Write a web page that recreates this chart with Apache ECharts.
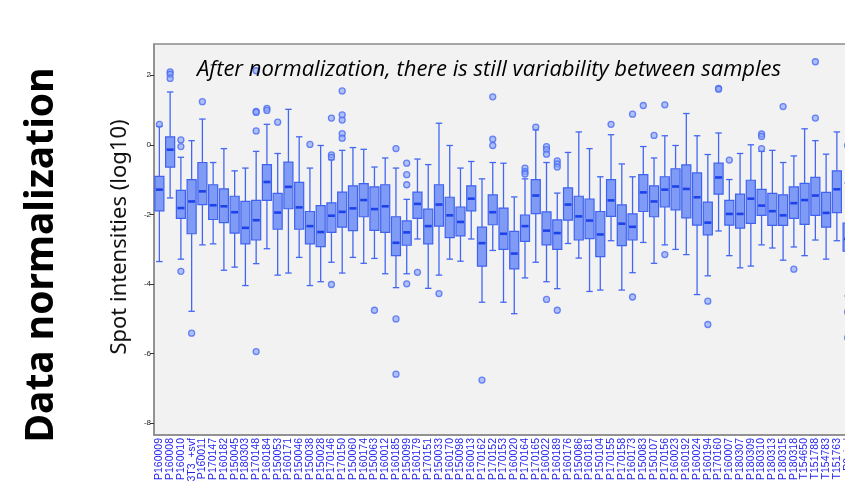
<!DOCTYPE html>
<html>
<head>
<meta charset="utf-8">
<script src="https://cdn.jsdelivr.net/npm/echarts@6/dist/echarts.min.js"></script>
<style>
  body { margin: 0; background: #fff; }
  #chart { width: 858px; height: 491px; }
</style>
</head>
<body>
<div id="chart"></div>
<script>
// sample names along the x axis
const categories = [
  "P160009", "P160008", "P160010", "3T3_+svf", "P160011", "P170147", "P160182", "P150045",
  "P180303", "P170148", "P160184", "P150053", "P160171", "P150046", "P150038", "P150028",
  "P170146", "P170150", "P150060", "P160174", "P150063", "P160012", "P160185", "P150099",
  "P160179", "P170151", "P150033", "P160170", "P150098", "P160013", "P170162", "P170152",
  "P170153", "P160020", "P170164", "P170165", "P160022", "P160189", "P160176", "P150086",
  "P160181", "P150104", "P170155", "P170158", "P160173", "P150083", "P150107", "P170156",
  "P160023", "P160192", "P160024", "P160194", "P170160", "P160007", "P180307", "P180309",
  "P180310", "P180313", "P180315", "P180318", "T154650", "T151788", "T154783", "T151763",
  "P0_ind"
];

// box statistics per sample (log10)
const whiskerLow = [-3.36, -1.53, -3.29, -4.79, -2.88, -2.85, -3.61, -3.52, -4.05, -3.42, -2.99, -3.75, -3.69, -3.24, -4.05, -3.94,
  -3.38, -3.69, -3.24, -3.41, -3.27, -3.71, -4.11, -3.71, -2.71, -4.13, -3.75, -3.29, -3.35, -2.71, -4.53, -3.04,
  -4.53, -4.86, -3.83, -3.38, -3.94, -4.14, -2.84, -3.26, -4.22, -4.18, -2.76, -4.18, -3.68, -2.81, -3.41, -2.88,
  -3.01, -3.16, -4.31, -3.77, -2.48, -3.19, -3.54, -3.49, -2.88, -2.97, -3.32, -2.94, -3.19, -2.74, -3.29, -2.76, -4.35];
const q1 = [-1.90, -0.64, -2.12, -2.56, -1.72, -2.15, -2.24, -2.54, -2.85, -2.74, -1.60, -2.43, -1.84, -2.43, -2.85, -2.93,
  -2.52, -2.37, -2.47, -2.07, -2.46, -2.52, -3.19, -2.89, -2.12, -2.85, -2.34, -2.67, -2.62, -1.90, -3.49, -2.30,
  -3.01, -3.57, -2.78, -1.98, -2.88, -3.01, -2.17, -2.74, -2.70, -3.22, -2.06, -2.90, -2.74, -1.92, -2.07, -1.79,
  -1.87, -2.10, -2.31, -2.59, -1.42, -2.31, -2.40, -2.26, -2.03, -2.32, -2.32, -2.12, -2.29, -2.03, -2.37, -1.95, -3.06];
const median = [-1.29, -0.14, -1.82, -1.63, -1.34, -1.74, -1.77, -1.94, -2.39, -2.17, -1.07, -1.95, -1.21, -1.80, -2.34, -2.51,
  -2.04, -1.93, -1.83, -1.59, -1.85, -1.77, -2.82, -2.52, -1.70, -2.34, -1.72, -2.03, -2.22, -1.55, -2.83, -1.94,
  -2.56, -3.13, -2.34, -1.46, -2.47, -2.54, -1.72, -2.06, -2.18, -2.58, -1.60, -2.27, -2.36, -1.37, -1.63, -1.29,
  -1.20, -1.27, -1.51, -2.24, -0.94, -1.99, -1.99, -1.55, -1.75, -1.91, -2.03, -1.68, -1.59, -1.46, -1.96, -1.28, -2.71];
const q3 = [-0.91, 0.23, -1.31, -1.00, -0.51, -1.15, -1.27, -1.48, -1.63, -1.60, -0.57, -1.40, -0.50, -1.08, -1.92, -1.75,
  -1.67, -1.36, -1.18, -1.12, -1.21, -1.15, -2.07, -2.19, -1.36, -1.85, -1.15, -1.51, -1.79, -1.18, -2.37, -1.44,
  -1.82, -2.49, -2.02, -1.00, -1.93, -2.16, -1.24, -1.48, -1.56, -1.92, -1.00, -1.73, -1.99, -0.86, -1.18, -0.92,
  -0.69, -0.58, -0.81, -1.65, -0.53, -1.60, -1.42, -1.02, -1.28, -1.40, -1.44, -1.21, -1.11, -0.94, -1.37, -0.75, -2.25];
const whiskerHigh = [0.53, 1.52, -0.36, 0.12, 0.74, -0.51, -0.11, -0.75, -0.67, -0.19, 0.59, -0.25, 1.02, 0.23, -0.67, -0.02,
  -0.43, -0.16, -0.08, -0.13, -0.64, -0.38, -0.67, -1.57, -0.41, -0.57, 0.62, -0.02, -0.67, -0.48, -0.98, -0.51,
  -0.53, -1.50, -0.98, 0.43, -0.51, -1.39, -0.22, 0.37, -0.11, -0.92, 0.29, -0.55, -0.92, -0.05, -0.38, 0.26,
  -0.02, 0.90, 0.26, -0.28, 0.34, -1.00, -0.25, 0.00, -0.19, -0.16, -0.51, -0.32, 0.46, 0.12, -0.27, 0.37, -1.10];

// outlying spots per sample
const outliers = [
  [0.59], [2.10, 2.03, 1.91], [0.14, -0.05, -3.64], [-5.42], [1.24], [], [], [],
  [], [2.13, 0.96, 0.93, 0.40, -5.95], [1.05, 0.99], [0.65], [], [], [0.01], [],
  [0.77, -0.29, -0.36, -4.02], [1.55, 0.86, 0.71, 0.32, 0.19], [], [], [-4.76], [], [-0.11, -5.01, -6.60], [-0.53, -0.86, -1.15, -4.00],
  [-3.67], [], [-4.28], [], [], [], [-6.77], [1.38, 0.16, -0.02],
  [], [], [-0.67, -0.77, -0.84], [0.51], [-0.05, -0.14, -0.27, -4.45], [-0.46, -0.55, -0.64, -4.76], [], [],
  [], [], [0.59], [], [0.88, -4.38], [1.13], [0.27], [1.15, -3.16],
  [], [], [], [-4.50, -5.17], [1.62, 1.60], [-0.44], [], [],
  [0.31, 0.24, -0.11], [], [1.10], [-3.58], [], [2.39, 0.77], [], [],
  [-0.02, -4.81, -5.55]
];

const yTicks = [-8, -6, -4, -2, 0, 2];

const boxData = categories.map((c, i) => [i, whiskerLow[i], q1[i], median[i], q3[i], whiskerHigh[i]]);
const outlierData = [];
outliers.forEach((vals, i) => vals.forEach(v => outlierData.push([i, v])));

const lineBlue = "#4467f2";

function renderBox(params, api) {
  const i = api.value(0);
  const x = api.coord([i, 0])[0];
  const band = api.size([1, 0])[0];
  const bw = band * 0.84;
  const cw = band * 0.6;
  const yLow = api.coord([i, api.value(1)])[1];
  const yQ1 = api.coord([i, api.value(2)])[1];
  const yMed = api.coord([i, api.value(3)])[1];
  const yQ3 = api.coord([i, api.value(4)])[1];
  const yHigh = api.coord([i, api.value(5)])[1];
  const ws = { stroke: lineBlue, lineWidth: 1.3 };
  return {
    type: "group",
    children: [
      { type: "line", shape: { x1: x, y1: yHigh, x2: x, y2: yQ3 }, style: ws },
      { type: "line", shape: { x1: x, y1: yQ1, x2: x, y2: yLow }, style: ws },
      { type: "line", shape: { x1: x - cw / 2, y1: yHigh, x2: x + cw / 2, y2: yHigh }, style: ws },
      { type: "line", shape: { x1: x - cw / 2, y1: yLow, x2: x + cw / 2, y2: yLow }, style: ws },
      {
        type: "rect",
        shape: { x: x - bw / 2, y: yQ3, width: bw, height: yQ1 - yQ3 },
        style: { fill: "#7f9bf6", stroke: "#3f63f0", lineWidth: 1.2 }
      },
      {
        type: "line",
        shape: { x1: x - bw / 2 + 1, y1: yMed, x2: x + bw / 2 - 1, y2: yMed },
        style: { stroke: "#1d42ea", lineWidth: 2.6 }
      }
    ]
  };
}

const chart = echarts.init(document.getElementById("chart"));
chart.setOption({
  animation: false,
  grid: {
    left: 154, top: 44, height: 391, width: 699,
    show: true, backgroundColor: "#f2f2f2", borderColor: "#8c8c8c", borderWidth: 1.5
  },
  graphic: [
    {
      type: "text", x: 42, y: 255, rotation: Math.PI / 2,
      style: {
        text: "Data normalization", fill: "#000",
        font: "bold 39px 'Noto Sans', sans-serif",
        textAlign: "center", textVerticalAlign: "middle"
      }
    },
    {
      type: "text", x: 120, y: 237, rotation: Math.PI / 2,
      style: {
        text: "Spot intensities (log10)", fill: "#111",
        font: "22px 'Noto Sans', sans-serif",
        textAlign: "center", textVerticalAlign: "middle"
      }
    },
    {
      type: "text", x: 489, y: 70, z: 100,
      style: {
        text: "After normalization, there is still variability between samples", fill: "#000",
        font: "italic 22px 'Open Sans', sans-serif",
        textAlign: "center", textVerticalAlign: "middle"
      }
    },
    {
      // the reference picture is cut off at the right edge
      type: "rect", left: 845, top: 0, z: 200,
      shape: { width: 13, height: 491 },
      style: { fill: "#fff" }
    }
  ],
  xAxis: {
    type: "category",
    data: categories,
    boundaryGap: true,
    axisLine: { show: true, onZero: false, lineStyle: { color: "#8c8c8c", width: 1.5 } },
    axisTick: { show: false },
    splitLine: { show: false },
    axisLabel: {
      rotate: 90, interval: 0, margin: 3,
      fontSize: 10.5, color: "#1f1ff0", fontFamily: "'Liberation Sans', Arial, sans-serif"
    }
  },
  yAxis: {
    type: "value",
    min: -8.35,
    max: 2.9,
    axisLine: { show: true, lineStyle: { color: "#8c8c8c", width: 1.5 } },
    axisTick: { show: true, length: 4, customValues: yTicks, lineStyle: { color: "#333" } },
    splitLine: { show: false },
    axisLabel: {
      customValues: yTicks, fontSize: 8, margin: 3, color: "#222",
      fontFamily: "'Liberation Sans', Arial, sans-serif"
    }
  },
  series: [
    {
      type: "custom",
      renderItem: renderBox,
      encode: { x: 0, y: [1, 2, 3, 4, 5] },
      data: boxData,
      clip: true
    },
    {
      type: "scatter",
      data: outlierData,
      symbol: "circle",
      symbolSize: 6,
      itemStyle: { color: "rgba(140,165,250,0.8)", borderColor: "#4a6cf2", borderWidth: 1.3 },
      z: 5
    }
  ]
});
</script>
</body>
</html>
